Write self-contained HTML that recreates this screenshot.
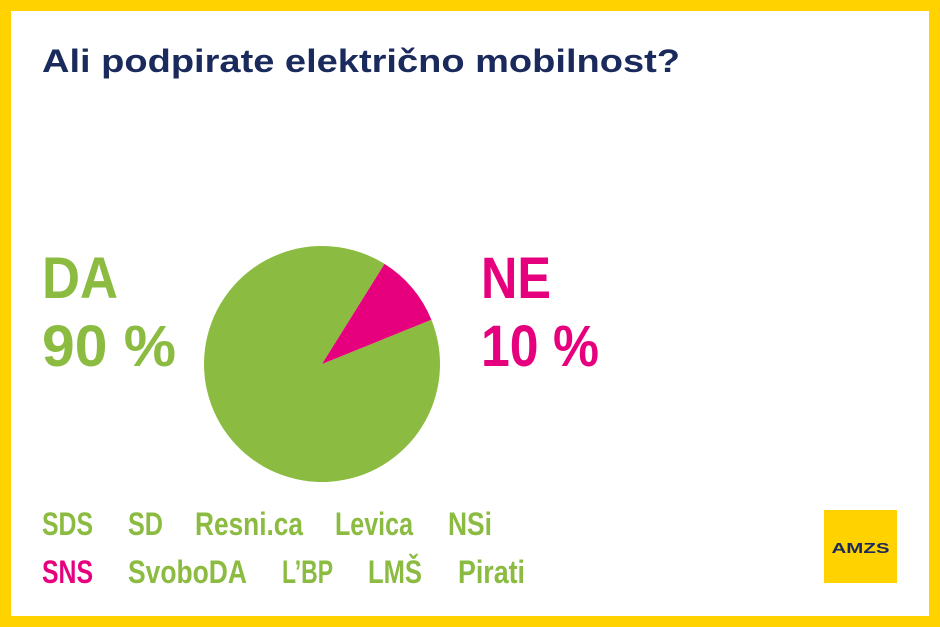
<!DOCTYPE html>
<html><head><meta charset="utf-8"><style>html,body{margin:0;padding:0;background:#fff}svg{display:block}text{font-family:"Liberation Sans",sans-serif;font-weight:bold}</style></head>
<body>
<svg id="c" width="940" height="627" viewBox="0 0 940 627">
<rect x="5.5" y="5.5" width="929" height="616" fill="#fff" stroke="#FFD200" stroke-width="11"/>
<text x="42" y="72" font-size="32" fill="#1B2A5C" textLength="638" lengthAdjust="spacingAndGlyphs">Ali podpirate električno mobilnost?</text>
<text x="42" y="298" font-size="58" fill="#8BBB40" textLength="76" lengthAdjust="spacingAndGlyphs">DA</text>
<text x="42" y="366" font-size="58" fill="#8BBB40" textLength="134" lengthAdjust="spacingAndGlyphs">90 %</text>
<text x="481" y="298" font-size="58" fill="#E6007E" textLength="70" lengthAdjust="spacingAndGlyphs">NE</text>
<text x="481" y="366" font-size="58" fill="#E6007E" textLength="118" lengthAdjust="spacingAndGlyphs">10 %</text>
<g id="pie"></g>
<g>
<text x="42" y="535" font-size="32" fill="#8BBB40" textLength="51" lengthAdjust="spacingAndGlyphs">SDS</text>
<text x="128" y="535" font-size="32" fill="#8BBB40" textLength="35" lengthAdjust="spacingAndGlyphs">SD</text>
<text x="195" y="535" font-size="32" fill="#8BBB40" textLength="108" lengthAdjust="spacingAndGlyphs">Resni.ca</text>
<text x="335" y="535" font-size="32" fill="#8BBB40" textLength="78" lengthAdjust="spacingAndGlyphs">Levica</text>
<text x="448" y="535" font-size="32" fill="#8BBB40" textLength="44" lengthAdjust="spacingAndGlyphs">NSi</text>
<text x="42" y="583" font-size="32" fill="#E6007E" textLength="51" lengthAdjust="spacingAndGlyphs">SNS</text>
<text x="128" y="583" font-size="32" fill="#8BBB40" textLength="119" lengthAdjust="spacingAndGlyphs">SvoboDA</text>
<text x="282" y="583" font-size="32" fill="#8BBB40" textLength="51" lengthAdjust="spacingAndGlyphs">L’BP</text>
<text x="368" y="583" font-size="32" fill="#8BBB40" textLength="54" lengthAdjust="spacingAndGlyphs">LMŠ</text>
<text x="458" y="583" font-size="32" fill="#8BBB40" textLength="67" lengthAdjust="spacingAndGlyphs">Pirati</text>
</g>
<g>
<rect x="824" y="510" width="73" height="73" fill="#FFD200"/>
<text x="860.5" y="553" font-size="15" fill="#1B2A5C" text-anchor="middle" textLength="58" lengthAdjust="spacingAndGlyphs">AMZS</text>
</g>
</svg>
<script>
const categories = ["DA", "NE"];
const values = [90, 10];
const colors = ["#8BBB40", "#E6007E"];
const startAngleDeg = 32 + 36 - 360;
const cx = 322, cy = 364, r = 118;
const g = document.getElementById('pie');
const total = values.reduce((a, b) => a + b, 0);
function pt(deg) { const a = deg * Math.PI / 180; return [cx + r * Math.sin(a), cy - r * Math.cos(a)]; }
let ang = startAngleDeg;
values.forEach((v, i) => {
  const sweep = v / total * 360;
  const [x1, y1] = pt(ang), [x2, y2] = pt(ang + sweep);
  const p = document.createElementNS('http://www.w3.org/2000/svg', 'path');
  p.setAttribute('d', `M${cx},${cy} L${x1},${y1} A${r},${r} 0 ${sweep > 180 ? 1 : 0} 1 ${x2},${y2} Z`);
  p.setAttribute('fill', colors[i]);
  
  
  g.appendChild(p);
  ang += sweep;
});
</script>
</body></html>
